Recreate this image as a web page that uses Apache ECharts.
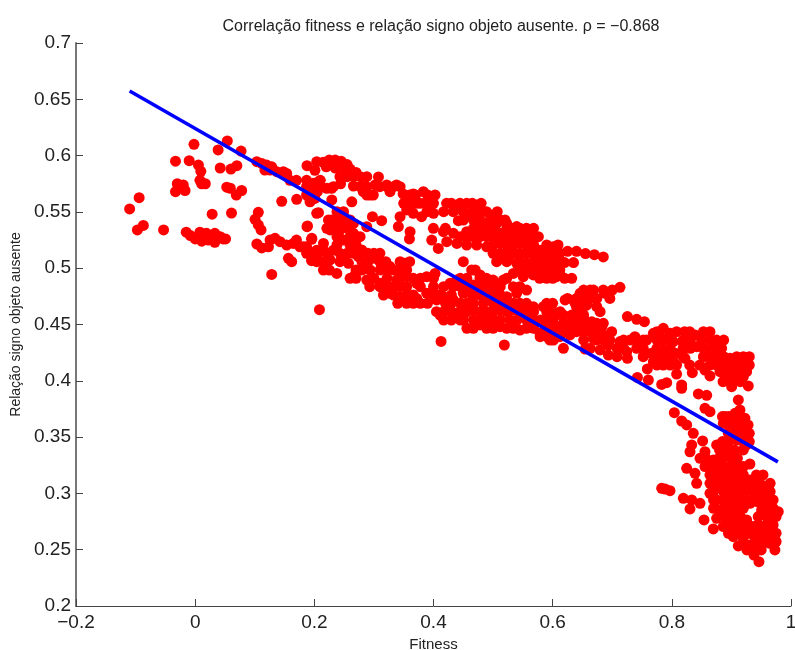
<!DOCTYPE html>
<html>
<head>
<meta charset="utf-8">
<style>
  html, body { margin: 0; padding: 0; background: #fff; }
  #chart { width: 795px; height: 650px; }
</style>
<script src="https://cdn.jsdelivr.net/npm/echarts@6/dist/echarts.min.js"></script>
</head>
<body>
<div id="chart"></div>
<script>
// pontos, [fitness, relacao]
var leftPoints = [
  [-0.110,0.5526],[-0.094,0.5626],[-0.097,0.534],[-0.087,0.538],[-0.053,0.534],[-0.033,0.595],[-0.010,0.5955],[-0.002,0.610],
  [-0.033,0.568],[-0.030,0.575],[-0.020,0.574],[-0.017,0.569],[0.0055,0.5916],[0.0095,0.586],[0.008,0.578],[0.011,0.575],[0.017,0.575],
  [0.0385,0.605],[0.054,0.613],[0.042,0.589],[0.060,0.588],[0.070,0.591],[0.077,0.604],[0.053,0.572],[0.059,0.571],[0.069,0.565],[0.078,0.569],
  [0.0285,0.548],[0.061,0.549],[-0.015,0.532],[-0.008,0.529],[0.0,0.526],[0.008,0.532],[0.011,0.524],[0.019,0.531],[0.022,0.525],
  [0.033,0.531],[0.033,0.523],[0.042,0.528],[0.047,0.526],[0.051,0.526]
];
var midLeftPoints = [
  [0.1035,0.5946],[0.1117,0.593],[0.120,0.5916],[0.1285,0.590],[0.117,0.5872],[0.1257,0.5872],[0.137,0.5857],[0.148,0.5857],[0.1536,0.5842],[0.159,0.578],[0.170,0.578],
  [0.1453,0.5594],[0.1704,0.5612],[0.1877,0.591],[0.204,0.5946],[0.201,0.587],[0.190,0.5754],[0.198,0.5754],[0.2068,0.5768],[0.1928,0.559],[0.201,0.562],[0.204,0.5487],[0.1877,0.5369],
  [0.106,0.5496],[0.1005,0.5434],[0.106,0.5384],[0.1106,0.534],[0.1035,0.5215],[0.1117,0.518],[0.1257,0.525],[0.134,0.5265],[0.1425,0.5236],[0.1536,0.5206],[0.1648,0.522],[0.170,0.525],
  [0.123,0.519],[0.176,0.519],[0.187,0.519],[0.1955,0.5256],[0.204,0.516],[0.1565,0.5088],[0.162,0.5058],[0.1955,0.5067],[0.1285,0.4945],[0.2086,0.4632]
];
var upperBand = [
  [0.215,0.594],[0.225,0.596],[0.235,0.596],[0.245,0.595],[0.255,0.592],[0.22,0.590],[0.235,0.589],[0.25,0.588],[0.26,0.588],[0.27,0.585],
  [0.187,0.578],[0.2,0.575],[0.21,0.578],[0.221,0.571],[0.205,0.568],[0.229,0.571],[0.244,0.575],[0.2656,0.573],[0.2796,0.573],[0.3076,0.581],[0.302,0.574],[0.2936,0.565],[0.282,0.568],[0.2629,0.559],
  [0.3215,0.574],[0.338,0.574],[0.327,0.568],[0.349,0.566],[0.366,0.566],[0.383,0.568],[0.4026,0.565],[0.3607,0.5576],[0.377,0.5576],[0.394,0.5576],[0.366,0.5487],[0.380,0.5458],[0.4,0.5487],[0.355,0.5517],
  [0.422,0.5576],[0.436,0.5517],[0.4445,0.5576],[0.4557,0.5576],[0.4725,0.5561],[0.4613,0.5487],[0.478,0.5487],[0.495,0.5472],[0.4417,0.5422],[0.467,0.5428],[0.4865,0.5398],[0.506,0.5398],[0.5228,0.5398],[0.5396,0.537],[0.5619,0.534],[0.576,0.528],
  [0.4557,0.5324],[0.4725,0.531],[0.4893,0.531],[0.5116,0.531],[0.534,0.531],[0.5563,0.528],[0.4166,0.5324],[0.4334,0.531],[0.4222,0.5236],[0.4392,0.522],[0.4557,0.5206],[0.4725,0.5206],[0.4893,0.519],[0.5116,0.522],[0.528,0.522],[0.545,0.522],[0.5619,0.519],[0.5787,0.516],[0.601,0.519],[0.609,0.5206],
  [0.3998,0.5354],[0.397,0.525],[0.408,0.5176],[0.3607,0.5324],[0.3596,0.526],[0.341,0.537],[0.3439,0.5458],[0.2975,0.5458],[0.313,0.5422],
  [0.45,0.5058],[0.5116,0.5102],[0.506,0.5058],[0.5256,0.5088],[0.5396,0.5043],[0.5563,0.5043],[0.573,0.5014],[0.59,0.4984],[0.6066,0.5014],[0.6066,0.4925],[0.57,0.5102],[0.534,0.4954],[0.5507,0.4925],[0.5675,0.494],
  [0.625,0.515],[0.64,0.515],[0.655,0.513],[0.67,0.512],[0.685,0.51],[0.62,0.505],[0.635,0.505],[0.61,0.51]
];
var upperFill = [
  [0.243,0.5813],[0.255,0.5813],[0.266,0.5813],[0.277,0.5813],[0.288,0.5813],
  [0.187,0.5724],[0.199,0.5724],[0.21,0.5724],[0.232,0.5724],[0.277,0.5724],[0.288,0.5724],[0.31,0.5724],[0.322,0.5724],[0.333,0.5724],[0.344,0.5724],
  [0.187,0.565],[0.199,0.565],[0.288,0.565],[0.299,0.565],[0.36,0.565],[0.37,0.565],[0.39,0.565],
  [0.35,0.5576],[0.37,0.5576],[0.385,0.5576],[0.40,0.5576],[0.43,0.5576],[0.465,0.5576],[0.48,0.5576],
  [0.389,0.5502],[0.417,0.5502],[0.433,0.5502],[0.45,0.5502],[0.489,0.5502],[0.507,0.5502],[0.467,0.5502],
  [0.45,0.5428],[0.478,0.5428],[0.50,0.5428],[0.512,0.5428],[0.52,0.5428],
  [0.42,0.5354],[0.467,0.5354],[0.478,0.5354],[0.50,0.5354],[0.523,0.5354],[0.534,0.5354],[0.545,0.5354],[0.556,0.5354],[0.568,0.5354],
  [0.445,0.528],[0.456,0.528],[0.467,0.528],[0.478,0.528],[0.489,0.528],[0.50,0.528],[0.512,0.528],[0.523,0.528],[0.534,0.528],[0.545,0.528],[0.568,0.528],
  [0.50,0.5206],[0.523,0.5206],[0.534,0.5206],[0.556,0.5206],[0.568,0.5206],[0.59,0.5206],
  [0.50,0.5132],[0.512,0.5132],[0.523,0.5132],[0.534,0.5132],[0.545,0.5132],[0.556,0.5132],[0.568,0.5132],[0.579,0.5132],[0.59,0.5132],[0.601,0.5132],[0.612,0.5132],
  [0.523,0.5058],[0.545,0.5058],[0.568,0.5058],[0.579,0.5058],[0.59,0.5058],[0.601,0.5058],
  [0.545,0.4984],[0.556,0.4984],[0.568,0.4984],[0.579,0.4984],[0.601,0.4984],[0.612,0.4984],
  [0.578,0.491],[0.59,0.491],[0.60,0.491],[0.62,0.491]
];
var lowerBand = [
  [0.2293,0.5606],[0.193,0.5606],[0.207,0.5493],[0.2237,0.5428],[0.2377,0.5428],[0.2489,0.5458],[0.2656,0.5398],[0.288,0.5369],[0.2265,0.534],[0.2405,0.531],[0.249,0.525],[0.2656,0.531],[0.2768,0.528],[0.26,0.5206],[0.2796,0.5162],
  [0.1885,0.5375],[0.1958,0.5265],[0.2153,0.522],[0.1818,0.519],[0.1958,0.5073],[0.2153,0.516],[0.232,0.516],[0.2489,0.5102],[0.2153,0.4984],[0.2377,0.4954],[0.2573,0.5043],[0.204,0.5102],[0.2265,0.5073],[0.274,0.5102],
  [0.2684,0.494],[0.288,0.4895],[0.2936,0.4984],[0.302,0.5088],[0.3104,0.4984],[0.3104,0.4866],[0.3271,0.5014],[0.3271,0.4777],[0.3439,0.4747],[0.3383,0.4895],[0.3551,0.4925],[0.3523,0.5043],[0.3718,0.4866],[0.3718,0.4732],[0.3886,0.4925],[0.3886,0.4777],
  [0.4026,0.4954],[0.4054,0.4718],[0.4166,0.4747],[0.4278,0.4866],[0.4389,0.4895],[0.411,0.4584],[0.4222,0.4629],[0.439,0.4599],[0.4501,0.454],[0.4333,0.4718],[0.45,0.4777],[0.4668,0.4851],[0.4641,0.4984],[0.4781,0.494],
  [0.478,0.4496],[0.4668,0.4629],[0.4837,0.4688],[0.4976,0.457],[0.5116,0.4481],[0.5284,0.454],[0.5451,0.4451],[0.5619,0.4481],[0.5787,0.4422],[0.5954,0.4362],[0.6066,0.4481],[0.5843,0.4658],[0.6066,0.4599],[0.5675,0.4658],[0.5563,0.4806],[0.5396,0.4777],[0.5228,0.4747],[0.5172,0.4895],[0.5,0.4895],[0.5,0.4777],[0.534,0.4629],[0.5116,0.4629],[0.495,0.4718],
  [0.4127,0.435],[0.5189,0.4318]
];
var lowerFill = [
  [0.238,0.5502],[0.249,0.5502],[0.229,0.5428],[0.25,0.5428],[0.26,0.5428],[0.221,0.5354],[0.232,0.5354],[0.243,0.5354],[0.255,0.5354],
  [0.238,0.528],[0.26,0.528],[0.27,0.528],[0.238,0.5206],[0.27,0.5206],
  [0.187,0.5132],[0.199,0.5132],[0.221,0.5132],[0.243,0.5132],[0.255,0.5132],[0.266,0.5132],[0.29,0.5132],[0.30,0.5132],[0.31,0.5132],
  [0.204,0.5058],[0.215,0.5058],[0.243,0.5058],[0.28,0.5058],[0.29,0.5058],[0.31,0.5058],[0.32,0.5058],[0.344,0.5058],[0.36,0.5058],
  [0.225,0.4984],[0.27,0.4984],[0.28,0.4984],[0.322,0.4984],[0.333,0.4984],[0.344,0.4984],[0.355,0.4984],[0.47,0.4984],
  [0.26,0.491],[0.27,0.491],[0.30,0.491],[0.322,0.491],[0.344,0.491],[0.366,0.491],[0.378,0.491],[0.40,0.491],[0.445,0.491],[0.456,0.491],[0.478,0.491],[0.489,0.491],[0.523,0.491],
  [0.293,0.4836],[0.31,0.4836],[0.322,0.4836],[0.333,0.4836],[0.344,0.4836],[0.355,0.4836],[0.378,0.4836],[0.40,0.4836],[0.417,0.4836],[0.433,0.4836],[0.445,0.4836],[0.456,0.4836],[0.478,0.4836],[0.489,0.4836],[0.50,0.4836],[0.512,0.4836],[0.534,0.4836],[0.545,0.4836],
  [0.316,0.4762],[0.333,0.4762],[0.355,0.4762],[0.366,0.4762],[0.40,0.4762],[0.41,0.4762],[0.43,0.4762],[0.465,0.4762],[0.478,0.4762],[0.489,0.4762],[0.512,0.4762],
  [0.34,0.4688],[0.355,0.4688],[0.366,0.4688],[0.378,0.4688],[0.39,0.4688],[0.42,0.4688],[0.43,0.4688],[0.445,0.4688],[0.456,0.4688],[0.467,0.4688],[0.50,0.4688],[0.512,0.4688],[0.523,0.4688],[0.534,0.4688],[0.545,0.4688],[0.556,0.4688],[0.59,0.4688],[0.60,0.4688],
  [0.405,0.4614],[0.417,0.4614],[0.43,0.4614],[0.445,0.4614],[0.456,0.4614],[0.478,0.4614],[0.489,0.4614],[0.50,0.4614],[0.523,0.4614],[0.545,0.4614],[0.556,0.4614],[0.568,0.4614],[0.59,0.4614],
  [0.417,0.454],[0.43,0.454],[0.445,0.454],[0.467,0.454],[0.478,0.454],[0.489,0.454],[0.50,0.454],[0.512,0.454],[0.54,0.454],[0.556,0.454],[0.568,0.454],[0.58,0.454],[0.59,0.454],[0.60,0.454],
  [0.456,0.4466],[0.467,0.4466],[0.489,0.4466],[0.50,0.4466],[0.523,0.4466],[0.534,0.4466],[0.556,0.4466],[0.568,0.4466],[0.59,0.4466],[0.60,0.4466],
  [0.579,0.4392],[0.59,0.4392],[0.601,0.4392],[0.612,0.4392]
];
var rightBand = [
  [0.6125,0.494],[0.632,0.491],[0.6209,0.4718],[0.646,0.4777],[0.6684,0.4806],[0.688,0.4777],[0.713,0.483],[0.696,0.4732],[0.6376,0.4688],[0.657,0.4673],[0.674,0.4658],[0.6796,0.4614],[0.6125,0.4614],[0.5985,0.46],[0.632,0.4584],[0.6516,0.4555],[0.6656,0.4525],
  [0.7254,0.457],[0.741,0.4546],[0.754,0.4525],[0.607,0.448],[0.629,0.448],[0.646,0.4496],[0.6628,0.4466],[0.6824,0.448],[0.699,0.4436],[0.685,0.4407],[0.618,0.4288],[0.6544,0.4282],[0.6013,0.4362],[0.629,0.4407],[0.6684,0.4377],[0.6796,0.4274],[0.6935,0.4318],[0.6935,0.4229],
  [0.7131,0.4348],[0.7299,0.4362],[0.738,0.4392],[0.7243,0.4259],[0.7254,0.42],[0.741,0.4288],[0.752,0.4214],[0.7578,0.4362],[0.769,0.4422],[0.7857,0.4466],[0.797,0.4422],[0.8215,0.4436],[0.783,0.4377],[0.8025,0.4348],[0.8193,0.4333],[0.8389,0.4407],[0.8501,0.4362],[0.8696,0.4333],[0.8836,0.4288],[0.8417,0.4303],[0.8585,0.4274],[0.8752,0.4244],
  [0.766,0.4244],[0.7857,0.4274],[0.8053,0.4244],[0.769,0.417],[0.7857,0.414],[0.8025,0.417],[0.822,0.42],[0.7589,0.4105],[0.7422,0.403],[0.7606,0.4007],[0.783,0.3968],[0.7914,0.3983],[0.808,0.406],[0.8344,0.4072],[0.8165,0.3963],[0.8165,0.3933],[0.8445,0.3883],[0.8585,0.3871],
  [0.8556,0.4096],[0.864,0.4043],[0.8808,0.4081],[0.8976,0.42],[0.9004,0.4111],[0.917,0.4111],[0.9255,0.4081],[0.92,0.4037],[0.9088,0.4007],[0.9004,0.3948],[0.9283,0.3954],[0.9116,0.383]
];
var rightFill = [
  [0.652,0.4806],[0.663,0.4806],[0.685,0.4806],[0.70,0.4806],[0.625,0.4732],[0.64,0.4732],[0.652,0.4732],[0.663,0.4732],[0.674,0.4732],[0.652,0.4658],[0.64,0.4658],
  [0.607,0.4584],[0.618,0.4584],[0.64,0.4584],[0.652,0.4584],[0.618,0.451],[0.629,0.451],[0.64,0.451],[0.652,0.451],[0.663,0.451],[0.674,0.451],[0.685,0.451],
  [0.618,0.4436],[0.64,0.4436],[0.652,0.4436],[0.663,0.4436],[0.674,0.4436],[0.775,0.4436],[0.808,0.4436],[0.83,0.4436],[0.853,0.4436],[0.864,0.4436],
  [0.652,0.4362],[0.674,0.4362],[0.685,0.4362],[0.696,0.4362],[0.719,0.4362],[0.741,0.4362],[0.752,0.4362],[0.775,0.4362],[0.786,0.4362],[0.797,0.4362],[0.819,0.4362],[0.831,0.4362],[0.864,0.4362],[0.875,0.4362],[0.887,0.4362],
  [0.663,0.4288],[0.708,0.4288],[0.719,0.4288],[0.752,0.4288],[0.775,0.4288],[0.797,0.4288],[0.819,0.4288],[0.831,0.4288],[0.853,0.4288],[0.875,0.4288],
  [0.708,0.4214],[0.775,0.4214],[0.786,0.4214],[0.797,0.4214],[0.819,0.4214],[0.853,0.4214],[0.864,0.4214],[0.875,0.4214],[0.887,0.4214],[0.909,0.4214],[0.92,0.4214],[0.93,0.4214],
  [0.775,0.414],[0.797,0.414],[0.808,0.414],[0.83,0.414],[0.847,0.414],[0.864,0.414],[0.875,0.414],[0.887,0.414],[0.898,0.414],[0.909,0.414],[0.92,0.414],[0.93,0.414],
  [0.887,0.4066],[0.898,0.4066],[0.909,0.4066],[0.886,0.3992],[0.898,0.3992],[0.915,0.3992]
];
var tailPoints = [
  [0.8042,0.3717],[0.8165,0.3643],[0.8249,0.3608],[0.836,0.3534],[0.8333,0.343],[0.8305,0.337],[0.8517,0.3466],[0.8556,0.3756],[0.864,0.3726],[0.8892,0.3682],[0.8752,0.343],[0.9143,0.3741],[0.906,0.3711],[0.9227,0.3667],[0.8864,0.3622],[0.9032,0.3593],[0.9199,0.3593],[0.9255,0.3534],[0.8948,0.3534],[0.9088,0.3474],[0.9255,0.343],[0.892,0.3415],
  [0.8556,0.337],[0.8473,0.3312],[0.8696,0.3297],[0.889,0.3326],[0.9004,0.3356],[0.931,0.3261],[0.9143,0.3238],[0.8976,0.3238],[0.881,0.32],[0.8249,0.3223],[0.8389,0.3178],[0.8417,0.309],[0.8556,0.3238],[0.7886,0.3039],[0.7969,0.3024],[0.783,0.3045],[0.8193,0.2956],[0.8333,0.2942],[0.8305,0.2862],[0.8473,0.2912],[0.854,0.2764],[0.8696,0.2684]
];
var blobPoints = [
  [0.864,0.309],[0.8808,0.3149],[0.8976,0.3149],[0.9143,0.3149],[0.931,0.3119],[0.9479,0.309],
  [0.864,0.3001],[0.8808,0.306],[0.8976,0.306],[0.9143,0.306],[0.931,0.303],[0.9479,0.3001],[0.9563,0.306],
  [0.8752,0.2942],[0.892,0.2971],[0.9088,0.2971],[0.9255,0.2942],[0.9423,0.2927],[0.9591,0.2942],
  [0.8808,0.2853],[0.8976,0.2882],[0.9143,0.2882],[0.931,0.2912],[0.9507,0.2853],[0.9646,0.2882],[0.9786,0.2838],
  [0.8752,0.2779],[0.892,0.2794],[0.9088,0.2794],[0.9255,0.2764],[0.9591,0.2794],[0.9674,0.2764],
  [0.8864,0.2705],[0.9032,0.2705],[0.9199,0.2705],[0.9367,0.2705],[0.9535,0.2705],[0.9646,0.2675],
  [0.9032,0.2616],[0.9199,0.2616],[0.9367,0.2631],[0.9535,0.2616],[0.9702,0.2601],
  [0.9115,0.2533],[0.931,0.2542],[0.9479,0.2527],[0.9646,0.2557],
  [0.9378,0.2453],[0.9462,0.2394],[0.973,0.2498]
];
var blobFill = [
  [0.885,0.3682],[0.895,0.3682],[0.905,0.3682],[0.915,0.3682],[0.895,0.3608],[0.91,0.3608],[0.928,0.3608],[0.905,0.3534],[0.915,0.3534],[0.93,0.3534],
  [0.885,0.346],[0.895,0.346],[0.92,0.346],[0.93,0.346],[0.88,0.3386],[0.905,0.3386],[0.92,0.3386],
  [0.857,0.3312],[0.879,0.3312],[0.90,0.3312],[0.91,0.3312],[0.865,0.3238],[0.875,0.3238],[0.887,0.3238],[0.905,0.3238],[0.92,0.3238],
  [0.864,0.3164],[0.875,0.3164],[0.887,0.3164],[0.905,0.3164],[0.92,0.3164],[0.942,0.3164],[0.953,0.3164],[0.87,0.309],[0.887,0.309],[0.905,0.309],[0.92,0.309],[0.938,0.309],[0.965,0.309],
  [0.87,0.3016],[0.887,0.3016],[0.905,0.3016],[0.92,0.3016],[0.94,0.3016],[0.958,0.3016],[0.965,0.3016],[0.87,0.2942],[0.885,0.2942],[0.90,0.2942],[0.915,0.2942],[0.935,0.2942],[0.95,0.2942],[0.97,0.2942],
  [0.87,0.2868],[0.89,0.2868],[0.905,0.2868],[0.92,0.2868],[0.955,0.2868],[0.97,0.2868],[0.885,0.2794],[0.90,0.2794],[0.915,0.2794],[0.945,0.2794],[0.965,0.2794],[0.975,0.2794],
  [0.892,0.272],[0.91,0.272],[0.928,0.272],[0.945,0.272],[0.96,0.272],[0.97,0.272],[0.895,0.2646],[0.91,0.2646],[0.928,0.2646],[0.945,0.2646],[0.96,0.2646],[0.97,0.2646],[0.975,0.2646],
  [0.92,0.2572],[0.94,0.2572],[0.955,0.2572],[0.965,0.2572],[0.975,0.2572],[0.926,0.2498],[0.937,0.2498],[0.95,0.2498]
];
var fitX = [-0.11, 0.978];
var fitY = [0.6574, 0.328];

var allPoints = leftPoints.concat(midLeftPoints, upperBand, upperFill, lowerBand, lowerFill, rightBand, rightFill, tailPoints, blobPoints, blobFill);
var fontName = '"Liberation Sans", Arial, sans-serif';

var myChart = echarts.init(document.getElementById('chart'));
var option = {
  animation: false,
  backgroundColor: '#fff',
  title: {
    text: 'Correlação fitness e relação signo objeto ausente. ρ = −0.868',
    left: 436,
    top: 14,
    textAlign: 'center',
    textStyle: { fontFamily: fontName, fontSize: 16, fontWeight: 'normal', color: '#222' }
  },
  grid: { left: 76, right: 4, top: 43, bottom: 44, containLabel: false, outerBoundsMode: 'none' },
  xAxis: {
    type: 'value',
    min: -0.2,
    max: 1,
    interval: 0.2,
    name: 'Fitness',
    nameLocation: 'middle',
    nameGap: 27,
    nameTextStyle: { fontFamily: fontName, fontSize: 15, color: '#222' },
    splitLine: { show: false },
    axisLine: { onZero: false, lineStyle: { color: '#444', width: 1 } },
    axisTick: { inside: true, length: 7, lineStyle: { color: '#444' } },
    axisLabel: {
      margin: 7,
      fontFamily: fontName,
      fontSize: 19,
      color: '#222',
      showMinLabel: true,
      showMaxLabel: true,
      formatter: function (v) {
        var s = String(+v.toFixed(1));
        return s.replace('-', '−');
      }
    }
  },
  yAxis: {
    type: 'value',
    min: 0.2,
    max: 0.7,
    interval: 0.05,
    name: 'Relação signo objeto ausente',
    nameLocation: 'middle',
    nameGap: 50,
    nameTextStyle: { fontFamily: fontName, fontSize: 14, color: '#222' },
    splitLine: { show: false },
    axisLine: { onZero: false, lineStyle: { color: '#777', width: 2 } },
    axisTick: { inside: true, length: 7, lineStyle: { color: '#444' } },
    axisLabel: {
      margin: 5,
      fontFamily: fontName,
      fontSize: 19,
      color: '#222',
      showMinLabel: true,
      showMaxLabel: true,
      formatter: function (v) { return String(+v.toFixed(2)); }
    }
  },
  series: [
    {
      type: 'scatter',
      data: allPoints,
      symbol: 'circle',
      symbolSize: 11,
      itemStyle: { color: '#ff0000', opacity: 1 },
      silent: true
    },
    {
      type: 'line',
      data: fitX.map(function (x, i) { return [x, fitY[i]]; }),
      symbol: 'none',
      lineStyle: { color: '#0000ff', width: 3.5 },
      silent: true,
      z: 5
    }
  ]
};
myChart.setOption(option);
</script>
</body>
</html>
